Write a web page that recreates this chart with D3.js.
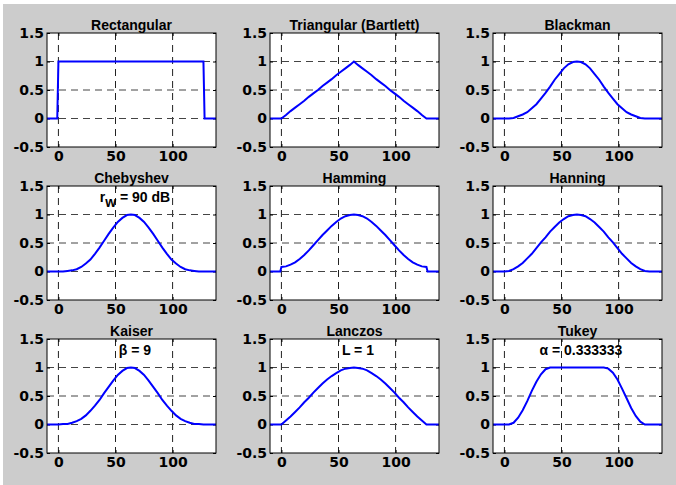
<!DOCTYPE html>
<html>
<head>
<meta charset="utf-8">
<script src="https://cdn.jsdelivr.net/npm/d3@7"></script>
<style>
  body { margin: 0; background: #fff; }
  text { font-family: "Liberation Sans", Arial, Helvetica, sans-serif; font-weight: bold; fill: #000; }
  .tick text { font-family: "DejaVu Sans", Verdana, sans-serif; font-size: 14px; }
</style>
</head>
<body>
<script>
// sample positions of the 128-point windows (symmetric around 63.5)
const samplePos = [0, 4, 8, 12, 16, 20, 24, 28, 32, 36, 40, 44, 48, 52, 56, 60, 63.5,
  67, 71, 75, 79, 83, 87, 91, 95, 99, 103, 107, 111, 115, 119, 123, 127];
const padLeft = [-10, -1];
const padRight = [128, 138];

const titles = ["Rectangular", "Triangular (Bartlett)", "Blackman",
  "Chebyshev", "Hamming", "Hanning",
  "Kaiser", "Lanczos", "Tukey"];

const rectangular = [1, 1, 1, 1, 1, 1, 1, 1, 1, 1, 1, 1, 1, 1, 1, 1, 1,
  1, 1, 1, 1, 1, 1, 1, 1, 1, 1, 1, 1, 1, 1, 1, 1];
const triangular = [0, 0.06, 0.13, 0.19, 0.25, 0.31, 0.38, 0.44, 0.50, 0.57, 0.63, 0.69, 0.76, 0.82, 0.88, 0.94, 1,
  0.94, 0.88, 0.82, 0.76, 0.69, 0.63, 0.57, 0.50, 0.44, 0.38, 0.31, 0.25, 0.19, 0.13, 0.06, 0];
const blackman = [0, 0.00, 0.01, 0.04, 0.07, 0.11, 0.18, 0.25, 0.35, 0.45, 0.56, 0.68, 0.78, 0.88, 0.95, 0.99, 1,
  0.99, 0.95, 0.88, 0.78, 0.68, 0.56, 0.45, 0.35, 0.25, 0.18, 0.11, 0.07, 0.04, 0.01, 0.00, 0];
const chebyshev = [0, 0.00, 0.01, 0.02, 0.04, 0.08, 0.14, 0.21, 0.31, 0.42, 0.54, 0.66, 0.77, 0.87, 0.94, 0.99, 1,
  0.99, 0.94, 0.87, 0.77, 0.66, 0.54, 0.42, 0.31, 0.21, 0.14, 0.08, 0.04, 0.02, 0.01, 0.00, 0];
const hamming = [0.08, 0.09, 0.12, 0.16, 0.22, 0.29, 0.37, 0.46, 0.55, 0.64, 0.72, 0.80, 0.87, 0.93, 0.97, 0.99, 1,
  0.99, 0.97, 0.93, 0.87, 0.80, 0.72, 0.64, 0.55, 0.46, 0.37, 0.29, 0.22, 0.16, 0.12, 0.09, 0.08];
const hanning = [0, 0.01, 0.04, 0.09, 0.15, 0.23, 0.31, 0.41, 0.51, 0.60, 0.70, 0.78, 0.86, 0.92, 0.97, 0.99, 1,
  0.99, 0.97, 0.92, 0.86, 0.78, 0.70, 0.60, 0.51, 0.41, 0.31, 0.23, 0.15, 0.09, 0.04, 0.01, 0];
const kaiser = [0.00, 0.01, 0.01, 0.03, 0.06, 0.10, 0.16, 0.24, 0.33, 0.43, 0.55, 0.66, 0.77, 0.87, 0.94, 0.99, 1,
  0.99, 0.94, 0.87, 0.77, 0.66, 0.55, 0.43, 0.33, 0.24, 0.16, 0.10, 0.06, 0.03, 0.01, 0.01, 0.00];
const lanczos = [0, 0.07, 0.14, 0.22, 0.30, 0.39, 0.47, 0.56, 0.64, 0.72, 0.79, 0.85, 0.90, 0.95, 0.98, 0.99, 1,
  0.99, 0.98, 0.95, 0.90, 0.85, 0.79, 0.72, 0.64, 0.56, 0.47, 0.39, 0.30, 0.22, 0.14, 0.07, 0];
const tukey = [0, 0, 0.03, 0.12, 0.25, 0.41, 0.59, 0.75, 0.88, 0.97, 1, 1, 1, 1, 1, 1, 1,
  1, 1, 1, 1, 1, 1, 0.98, 0.91, 0.79, 0.63, 0.46, 0.29, 0.15, 0.05, 0.00, 0];

const windows = [rectangular, triangular, blackman, chebyshev, hamming, hanning, kaiser, lanczos, tukey];

// annotation inside some panels
const notes = [null, null, null, "rw", null, null, "β = 9", "L = 1", "α = 0.333333"];
const notePos = [67, 1.3];

const xDomain = [-10, 138];
const yDomain = [-0.5, 1.5];
const xTicks = [0, 50, 100];
const yTicks = [-0.5, 0, 0.5, 1, 1.5];

// layout
const W = 676, H = 485;
const colX = [47, 270, 493];
const rowY = [33, 186, 339];
const PW = 169, PH = 114;

const svg = d3.select("body").append("svg")
  .attr("width", W)
  .attr("height", H);

svg.append("rect")
  .attr("x", 3).attr("y", 4)
  .attr("width", W - 3).attr("height", H - 4)
  .attr("fill", "#cccccc");

const x = d3.scaleLinear().domain(xDomain).range([0, PW]);
const y = d3.scaleLinear().domain(yDomain).range([PH, 0]);

const line = d3.line()
  .x(d => x(d[0]))
  .y(d => y(d[1]));

windows.forEach((vals, i) => {
  const g = svg.append("g")
    .attr("transform", `translate(${colX[i % 3]},${rowY[Math.floor(i / 3)]})`);

  g.append("rect")
    .attr("width", PW).attr("height", PH)
    .attr("fill", "#fff");

  // dashed grid
  g.selectAll(".gx")
    .data(xTicks)
    .join("line")
    .attr("class", "gx")
    .attr("x1", d => x(d)).attr("x2", d => x(d))
    .attr("y1", 0).attr("y2", PH)
    .attr("stroke", "#222")
    .attr("stroke-dasharray", "7,5");
  g.selectAll(".gy")
    .data(yTicks.slice(1, -1))
    .join("line")
    .attr("class", "gy")
    .attr("x1", 0).attr("x2", PW)
    .attr("y1", d => y(d)).attr("y2", d => y(d))
    .attr("stroke", "#444")
    .attr("stroke-dasharray", "7,5");

  // axes with inward ticks
  g.append("g").attr("transform", `translate(0,${PH})`)
    .call(d3.axisBottom(x).tickValues(xTicks).tickSize(-3).tickPadding(4).tickFormat(d => d));
  g.append("g")
    .call(d3.axisLeft(y).tickValues(yTicks).tickSize(-3).tickPadding(3).tickFormat(d => d));
  g.append("g").call(d3.axisTop(x).tickValues(xTicks).tickSize(-3).tickFormat(""));
  g.append("g").attr("transform", `translate(${PW},0)`)
    .call(d3.axisRight(y).tickValues(yTicks).tickSize(-3).tickFormat(""));
  g.selectAll(".domain").remove();
  g.selectAll(".tick line").attr("stroke", "#000");
  g.selectAll(".tick text").attr("fill", "#000");

  // window curve with zero padding
  const pts = padLeft.map(p => [p, 0])
    .concat(samplePos.map((p, k) => [p, vals[k]]))
    .concat(padRight.map(p => [p, 0]));
  g.append("path")
    .datum(pts)
    .attr("d", line)
    .attr("fill", "none")
    .attr("stroke", "#0000ff")
    .attr("stroke-width", 2);

  g.append("rect")
    .attr("width", PW).attr("height", PH)
    .attr("fill", "none")
    .attr("stroke", "#000");

  g.append("text")
    .attr("x", PW / 2).attr("y", -3)
    .attr("text-anchor", "middle")
    .attr("font-size", 14)
    .text(titles[i]);

  if (notes[i]) {
    const t = g.append("text")
      .attr("x", x(notePos[0])).attr("y", y(notePos[1]))
      .attr("dy", "0.35em")
      .attr("text-anchor", "middle")
      .attr("font-size", 14);
    if (notes[i] === "rw") {
      t.append("tspan").text("r");
      t.append("tspan").attr("dy", 5).text("w");
      t.append("tspan").attr("dy", -5).text(" = 90 dB");
    } else {
      t.text(notes[i]);
    }
  }
});
</script>
</body>
</html>
